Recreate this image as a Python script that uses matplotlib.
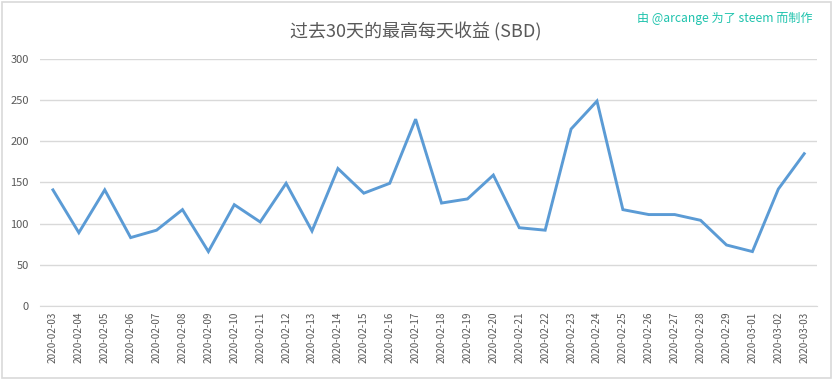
import matplotlib
matplotlib.use("Agg")
import matplotlib.pyplot as plt
from matplotlib.patches import Rectangle

plt.rcParams['font.family'] = ['Noto Sans CJK SC', 'DejaVu Sans']

dates = ["2020-02-03", "2020-02-04", "2020-02-05", "2020-02-06", "2020-02-07",
         "2020-02-08", "2020-02-09", "2020-02-10", "2020-02-11", "2020-02-12",
         "2020-02-13", "2020-02-14", "2020-02-15", "2020-02-16", "2020-02-17",
         "2020-02-18", "2020-02-19", "2020-02-20", "2020-02-21", "2020-02-22",
         "2020-02-23", "2020-02-24", "2020-02-25", "2020-02-26", "2020-02-27",
         "2020-02-28", "2020-02-29", "2020-03-01", "2020-03-02", "2020-03-03"]
values = [141, 89, 141, 83, 92, 117, 66, 123, 102, 149,
          91, 167, 137, 149, 227, 125, 130, 159, 95, 92,
          215, 249, 117, 111, 111, 104, 74, 66, 142, 185]
y_ticks = [0, 50, 100, 150, 200, 250, 300]

title = "过去30天的最高每天收益 (SBD)"
credit = "由 @arcange 为了 steem 而制作"

fig = plt.figure(figsize=(8.33, 3.79), dpi=100)
fig.patch.set_facecolor("white")
fig.add_artist(Rectangle((0.002, 0.003), 0.995, 0.993, transform=fig.transFigure,
                         fill=False, edgecolor="#d9d9d9", linewidth=1.2))

ax = fig.add_axes([0.048, 0.193, 0.933, 0.651])
x = list(range(len(dates)))
ax.plot(x, values, color="#5B9BD5", linewidth=2.1, solid_joinstyle="miter")
ax.set_xlim(-0.5, len(dates) - 0.5)
ax.set_ylim(0, 300)
ax.set_yticks(y_ticks)
ax.set_xticks(x)
ax.set_xticklabels(dates, rotation=90, fontsize=7.2, color="#595959")
ax.tick_params(axis="y", labelsize=8, colors="#595959", length=0, pad=8)
ax.tick_params(axis="x", length=0, pad=4)
ax.grid(axis="y", color="#d9d9d9", linewidth=1)
ax.set_axisbelow(True)
for s in ["top", "right", "left"]:
    ax.spines[s].set_visible(False)
ax.spines["bottom"].set_color("#d9d9d9")

fig.text(0.499, 0.915, title, ha="center", va="center", fontsize=13, color="#595959")
fig.text(0.975, 0.952, credit, ha="right", va="center", fontsize=8.7, color="#1fc3ad")

fig.savefig("out.png", dpi=100)
